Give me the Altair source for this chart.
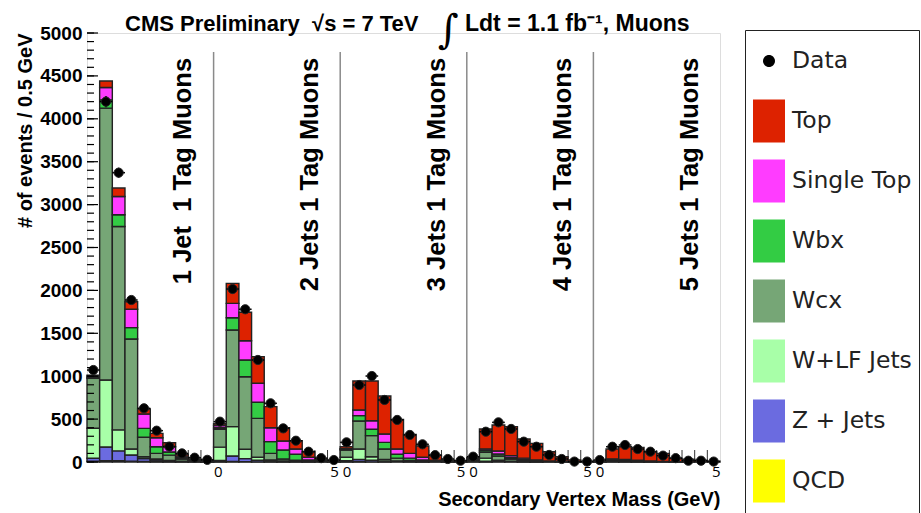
import altair as alt
import pandas as pd

# ---------------- data ----------------
BIN_WIDTH = 0.5          # GeV per bin
N_BINS = 50              # 5 jet bins x 10 mass bins
PANEL_EDGES = [5, 10, 15, 20]
panel_labels = ["1 Jet\u00a0 1 Tag Muons", "2 Jets 1 Tag Muons", "3 Jets 1 Tag Muons",
                "4 Jets 1 Tag Muons", "5 Jets 1 Tag Muons"]
title_parts = ["CMS Preliminary\u00a0 \u221as = 7 TeV", "\u222b", "Ldt = 1.1 fb\u207b\u00b9, Muons"]

legend_names = ["Data", "Top", "Single Top", "Wbx", "Wcx", "W+LF Jets", "Z + Jets", "QCD"]
legend_colors = ["#000000", "#dd2200", "#ff3cff", "#33cc44", "#76a676", "#a8ffa8", "#6b6be0", "#ffff00"]

qcd = [8, 15, 15, 10, 5, 3, 2, 1, 0, 0,
       3, 5, 4, 2, 1, 1, 0, 0, 0, 0,
       2, 3, 2, 1, 0, 0, 0, 0, 0, 0,
       0, 1, 0, 0, 0, 0, 0, 0, 0, 0,
       0, 0, 0, 0, 0, 0, 0, 0, 0, 0]
zjets = [35, 160, 115, 72, 35, 20, 10, 5, 2, 1,
         15, 65, 35, 18, 9, 4, 2, 1, 0, 0,
         12, 27, 18, 9, 5, 2, 1, 0, 0, 0,
         2, 8, 5, 3, 1, 1, 0, 0, 0, 0,
         0, 2, 2, 1, 1, 0, 0, 0, 0, 0]
wlf = [350, 780, 245, 69, 22, 12, 6, 3, 2, 1,
       155, 342, 109, 35, 15, 8, 4, 2, 0, 0,
       41, 121, 42, 20, 8, 4, 2, 0, 0, 0,
       8, 36, 15, 6, 3, 1, 0, 0, 0, 0,
       0, 6, 4, 2, 1, 0, 0, 0, 0, 0]
wcx = [582, 3170, 2370, 1283, 226, 66, 62, 25, 10, 5,
       208, 1126, 846, 454, 76, 22, 14, 5, 2, 1,
       85, 327, 245, 121, 32, 12, 5, 2, 1, 0,
       15, 68, 50, 26, 10, 4, 2, 1, 0, 0,
       2, 18, 14, 8, 4, 2, 1, 1, 0, 0]
wbx = [12, 95, 137, 132, 104, 77, 37, 15, 6, 4,
       19, 144, 195, 187, 136, 105, 70, 15, 6, 3,
       8, 62, 74, 78, 45, 27, 15, 6, 2, 1,
       5, 20, 23, 17, 12, 7, 4, 2, 1, 0,
       1, 5, 5, 4, 3, 2, 1, 0, 0, 0]
single_top = [15, 145, 213, 214, 167, 105, 61, 20, 7, 4,
              25, 167, 225, 221, 163, 105, 61, 32, 8, 4,
              8, 66, 100, 97, 61, 56, 32, 14, 4, 2,
              5, 18, 35, 22, 19, 12, 6, 3, 1, 0,
              1, 6, 6, 5, 3, 2, 1, 1, 0, 0]
top = [10, 75, 98, 88, 59, 51, 47, 20, 8, 5,
       20, 233, 331, 311, 245, 155, 97, 65, 16, 7,
       22, 338, 463, 443, 346, 221, 131, 58, 15, 6,
       15, 234, 303, 338, 223, 192, 108, 56, 23, 8,
       8, 114, 147, 151, 108, 95, 42, 30, 20, 10]
data_counts = [1072, 4200, 3372, 1888, 626, 365, 180, 100, 50, 25,
               470, 2016, 1780, 1189, 684, 392, 248, 120, 45, 23,
               229, 897, 1002, 723, 490, 315, 206, 80, 35, 15,
               62, 353, 462, 385, 237, 178, 82, 35, 5, 5,
               23, 178, 198, 151, 120, 74, 45, 15, 15, 5]

y_major = list(range(0, 5001, 500))
y_minor = list(range(0, 5001, 100))
x_label_values = [5, 10, 15, 20, 25]

# ---------------- tables ----------------
stack_names = ["QCD", "Z + Jets", "W+LF Jets", "Wcx", "Wbx", "Single Top", "Top"]
stack_series = [qcd, zjets, wlf, wcx, wbx, single_top, top]

rows = []
for i in range(N_BINS):
    lo = 0
    for name, series in zip(stack_names, stack_series):
        v = series[i]
        if v > 0:
            rows.append(dict(x0=i * BIN_WIDTH, x1=(i + 1) * BIN_WIDTH, lo=lo, hi=lo + v, comp=name))
        lo += v
bars_df = pd.DataFrame(rows)

data_df = pd.DataFrame(dict(
    x0=[i * BIN_WIDTH for i in range(N_BINS)],
    x1=[(i + 1) * BIN_WIDTH for i in range(N_BINS)],
    xc=[(i + 0.5) * BIN_WIDTH for i in range(N_BINS)],
    n=data_counts,
    comp=["Data"] * N_BINS,
))
edges_df = pd.DataFrame(dict(x=[i * BIN_WIDTH for i in range(1, N_BINS)]))
div_df = pd.DataFrame(dict(x=PANEL_EDGES))
lab_df = pd.DataFrame(dict(x=[(k + 1) * 5 - 0.88 for k in range(5)], y=[4710] * 5, t=panel_labels))
ymaj_df = pd.DataFrame(dict(y=y_major))
ymin_df = pd.DataFrame(dict(y=y_minor))

# ---------------- scales / legend ----------------
xs = alt.Scale(domain=[0, 25], nice=False, zero=False)
ys = alt.Scale(domain=[0, 5000], nice=False)
rect_path = "M-1,-1.34L1,-1.34L1,1.34L-1,1.34Z"
circ_path = "M-0.375,0a0.375,0.375 0 1,0 0.75,0a0.375,0.375 0 1,0 -0.75,0"
fill_scale = alt.Scale(domain=legend_names, range=legend_colors)
shape_scale = alt.Scale(domain=legend_names, range=[circ_path] + [rect_path] * 7)
leg = alt.Legend(
    title="\u00a0", titleFontSize=2, titlePadding=5,
    orient="none", legendX=658, legendY=-3,
    symbolSize=1024, symbolStrokeColor="#222222", symbolStrokeWidth=1.5,
    symbolOpacity=1, labelFont="DejaVu Sans", labelFontSize=23.5, labelColor="#222222",
    labelOffset=6, rowPadding=10, padding=7, strokeColor="#222222",
    fillColor="white", labelLimit=300, gridAlign="all",
)

H = 429
STROKE = alt.value("#222222")
SW = alt.value(1.4)

x_axis = alt.Axis(
    values=x_label_values, tickSize=0, domain=False, grid=False,
    labelExpr="datum.value == 5 ? '0' : (datum.value == 25 ? '5' : '5  0')",
    labelAlign={"condition": [{"test": "datum.value == 5", "value": "left"},
                              {"test": "datum.value == 25", "value": "right"}],
                "value": "center"},
    labelFont="Open Sans", labelFontSize=15, labelColor="black", labelPadding=2,
    title="Secondary Vertex Mass (GeV)", titleFont="Liberation Sans", titleFontWeight="bold",
    titleFontSize=20, titleColor="black", titleAnchor="end", titlePadding=10,
)
y_axis = alt.Axis(
    values=y_major, tickSize=0, domain=False, grid=False, format="d",
    labelFont="Liberation Sans", labelFontWeight="bold", labelFontSize=19,
    labelColor="black", labelPadding=5,
    title="# of events / 0.5 GeV", titleFont="Liberation Sans", titleFontWeight="bold",
    titleFontSize=20, titleColor="black", titleAnchor="end", titlePadding=4,
)

X = lambda f: alt.X(f, scale=xs, axis=x_axis)
Y = lambda f: alt.Y(f, scale=ys, axis=y_axis)

xticks = alt.Chart(edges_df).mark_rule(color="#333333", strokeWidth=1).encode(
    x=X("x:Q"), y=alt.value(H), y2=alt.value(H - 12))

dividers = alt.Chart(div_df).mark_rule(color="#8a8a8a", strokeWidth=1.5).encode(
    x=X("x:Q"), y=alt.value(19), y2=alt.value(H))

bars = alt.Chart(bars_df).mark_bar(opacity=1).encode(
    x=X("x0:Q"), x2="x1:Q", y=Y("lo:Q"), y2="hi:Q",
    fill=alt.Fill("comp:N", scale=fill_scale, legend=leg),
    stroke=STROKE, strokeWidth=SW,
)

xerr = alt.Chart(data_df).mark_rule(color="black", strokeWidth=1.5).encode(
    x=X("x0:Q"), x2="x1:Q", y=Y("n:Q"))

yerr = alt.Chart(data_df).transform_calculate(
    elo="datum.n - sqrt(datum.n)", ehi="datum.n + sqrt(datum.n)"
).mark_rule(color="black", strokeWidth=1.5).encode(
    x=X("xc:Q"), y=Y("elo:Q"), y2="ehi:Q")

points = alt.Chart(data_df).mark_circle(size=85, opacity=1).encode(
    x=X("xc:Q"), y=Y("n:Q"),
    fill=alt.Fill("comp:N", scale=fill_scale, legend=leg),
    stroke=STROKE, strokeWidth=alt.value(1),
)

# empty layer that only contributes the legend symbol shapes
legend_shapes = alt.Chart(data_df).transform_filter("false").mark_point(filled=True, opacity=1).encode(
    x=X("xc:Q"), y=Y("n:Q"),
    fill=alt.Fill("comp:N", scale=fill_scale, legend=leg),
    shape=alt.Shape("comp:N", scale=shape_scale, legend=leg),
    stroke=STROKE, strokeWidth=SW,
)

ymaj = alt.Chart(ymaj_df).mark_rule(color="black", strokeWidth=1.2).encode(
    y=Y("y:Q"), x=alt.value(0), x2=alt.value(11))
ymin = alt.Chart(ymin_df).mark_rule(color="black", strokeWidth=1.2).encode(
    y=Y("y:Q"), x=alt.value(0), x2=alt.value(7))

labels = alt.Chart(lab_df).mark_text(
    angle=270, align="right", baseline="alphabetic", font="Liberation Sans",
    fontWeight="bold", fontSize=25.5, color="black"
).encode(x=X("x:Q"), y=Y("y:Q"), text="t:N")

# title pieces (header text placed above the frame)
t_df = pd.DataFrame(dict(t=title_parts))
title1 = alt.Chart(t_df).transform_filter(alt.datum.t == title_parts[0]).mark_text(
    align="left", baseline="alphabetic", font="Liberation Sans", fontWeight="bold",
    fontSize=22, color="black").encode(text="t:N", x=alt.value(38), y=alt.value(-2))
title2 = alt.Chart(t_df).transform_filter(alt.datum.t == title_parts[1]).mark_text(
    align="left", baseline="alphabetic", font="DejaVu Serif",
    fontSize=40, color="black").encode(text="t:N", x=alt.value(351), y=alt.value(10))
title3 = alt.Chart(t_df).transform_filter(alt.datum.t == title_parts[2]).mark_text(
    align="left", baseline="alphabetic", font="Liberation Sans", fontWeight="bold",
    fontSize=23, color="black").encode(text="t:N", x=alt.value(378), y=alt.value(-2))

chart = alt.layer(xticks, dividers, bars, xerr, yerr, points, legend_shapes, ymaj, ymin, labels,
                  title1, title2, title3).properties(
    width=633, height=H,
    autosize=alt.AutoSizeParams(type="none"),
    padding={"left": 87, "top": 33, "right": 201, "bottom": 51},
).configure_view(stroke="black", strokeWidth=1.5).configure(background="white")

chart.save("out.html", embed_options={"renderer": "svg", "actions": False})
